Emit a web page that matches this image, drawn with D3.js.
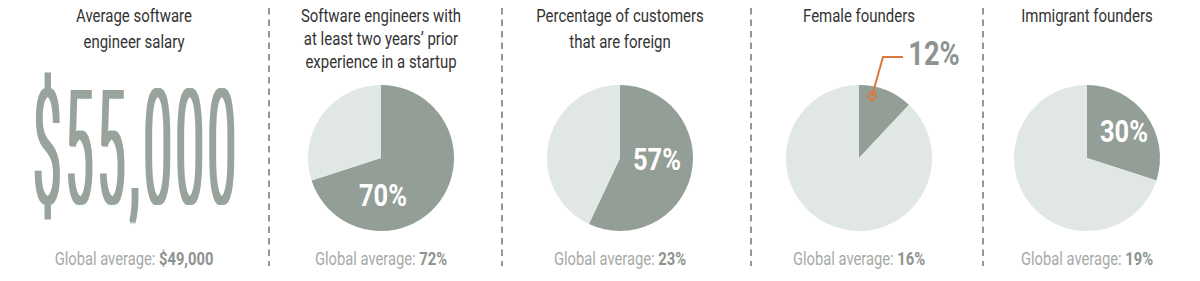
<!DOCTYPE html>
<html>
<head>
<meta charset="utf-8">
<script src="https://cdn.jsdelivr.net/npm/d3@7"></script>
<style>
  body { margin: 0; background: #fff; }
  text { font-family: Roboto, "Noto Sans", sans-serif; }
</style>
</head>
<body>
<div id="chart"></div>
<script>
// data
var titles = [
  ["Average software", "engineer salary"],
  ["Software engineers with", "at least two years\u2019 prior", "experience in a startup"],
  ["Percentage of customers", "that are foreign"],
  ["Female founders"],
  ["Immigrant founders"]
];
var salary = 55000;
var globalSalary = 49000;
var pieValues = [70, 57, 12, 30];
var globalValues = [72, 23, 16, 19];

var svgWidth = 1200;
var svgHeight = 281;

// layout
var panelX = [134, 381, 620, 859, 1087];
var dividerX = [269, 502, 751, 983];
var lineGap = [26, 23, 26, 26, 26];
var pieY = 158;
var radius = 73;
var squeeze = 0.82;
var titleSqueeze = 0.855;

var dark = "#939e96";
var light = "#e1e7e4";

var svg = d3.select("#chart")
  .append("svg")
  .attr("width", svgWidth)
  .attr("height", svgHeight);

// filter to thicken the vertical stems of the condensed big number
svg.append("defs")
  .append("filter")
  .attr("id", "thick")
  .attr("x", "-10%").attr("y", "-10%")
  .attr("width", "120%").attr("height", "120%")
  .append("feMorphology")
  .attr("operator", "dilate")
  .attr("radius", "1.8 0");

// dashed dividers
svg.selectAll(".divider")
  .data(dividerX)
  .enter()
  .append("line")
  .attr("x1", d => d).attr("x2", d => d)
  .attr("y1", 8).attr("y2", 266)
  .attr("stroke", "#959595")
  .attr("stroke-width", 2)
  .attr("stroke-dasharray", "6.5,5");

// titles
titles.forEach((lines, i) => {
  var g = svg.append("g")
    .attr("transform", `translate(${panelX[i]},22) scale(${titleSqueeze},1)`);
  g.selectAll("text")
    .data(lines)
    .enter()
    .append("text")
    .attr("y", (d, j) => j * lineGap[i])
    .attr("text-anchor", "middle")
    .attr("font-size", 17.5)
    .attr("fill", "#333")
    .text(d => d);
});

// global average footers
var fmtMoney = d3.format("$,");
var footers = [fmtMoney(globalSalary)].concat(globalValues.map(v => v + "%"));
footers.forEach((f, i) => {
  var t = svg.append("g")
    .attr("transform", `translate(${panelX[i]},265) scale(${squeeze},1)`)
    .append("text")
    .attr("text-anchor", "middle")
    .attr("font-size", 18)
    .attr("fill", "#a6aaa7");
  t.append("tspan").text("Global average: ");
  t.append("tspan").attr("font-weight", "bold").attr("fill", "#8e938f").text(f);
});

// big salary number
var bigOuter = svg.append("g").attr("filter", "url(#thick)");
var bigG = bigOuter.append("g");
var big = bigG.append("text")
  .attr("font-size", 160)
  .attr("font-weight", 300)
  .attr("letter-spacing", 18)
  .attr("fill", "#98a39b")
  .text(fmtMoney(salary));
var bb = big.node().getBBox();
var bigLen = big.node().getComputedTextLength() - 18;
var sx = 201 / bigLen;
bigG.attr("transform", `translate(34,203) scale(${sx},1)`);

// pies
var pie = d3.pie().sort(null).value(d => d);
var arc = d3.arc().innerRadius(0).outerRadius(radius);

var labelOffset = [[2, 48], [37, 12], null, [37, -16]];

pieValues.forEach((v, i) => {
  var cx = panelX[i + 1];
  var g = svg.append("g").attr("transform", `translate(${cx},${pieY})`);
  g.selectAll("path")
    .data(pie([v, 100 - v]))
    .enter()
    .append("path")
    .attr("d", arc)
    .attr("fill", (d, j) => j === 0 ? dark : light);

  var off = labelOffset[i];
  if (off) {
    g.append("g")
      .attr("transform", `translate(${off[0]},${off[1]}) scale(${squeeze},1)`)
      .append("text")
      .attr("text-anchor", "middle")
      .attr("font-size", 31)
      .attr("font-weight", "bold")
      .attr("fill", "#fff")
      .text(v + "%");
  } else {
    // small slice: call-out label above the pie
    var c = [13, -62];
    g.append("path")
      .attr("d", d3.line()([[44, -101], [24, -101], c]))
      .attr("fill", "none")
      .attr("stroke", "#d9783f")
      .attr("stroke-width", 2);
    g.append("circle")
      .attr("cx", c[0]).attr("cy", c[1]).attr("r", 3.8)
      .attr("fill", "none")
      .attr("stroke", "#d9783f")
      .attr("stroke-width", 2);
    g.append("g")
      .attr("transform", `translate(75,-93) scale(0.84,1)`)
      .append("text")
      .attr("text-anchor", "middle")
      .attr("font-size", 32.5)
      .attr("font-weight", "bold")
      .attr("fill", "#8e938f")
      .text(v + "%");
  }
});
</script>
</body>
</html>
